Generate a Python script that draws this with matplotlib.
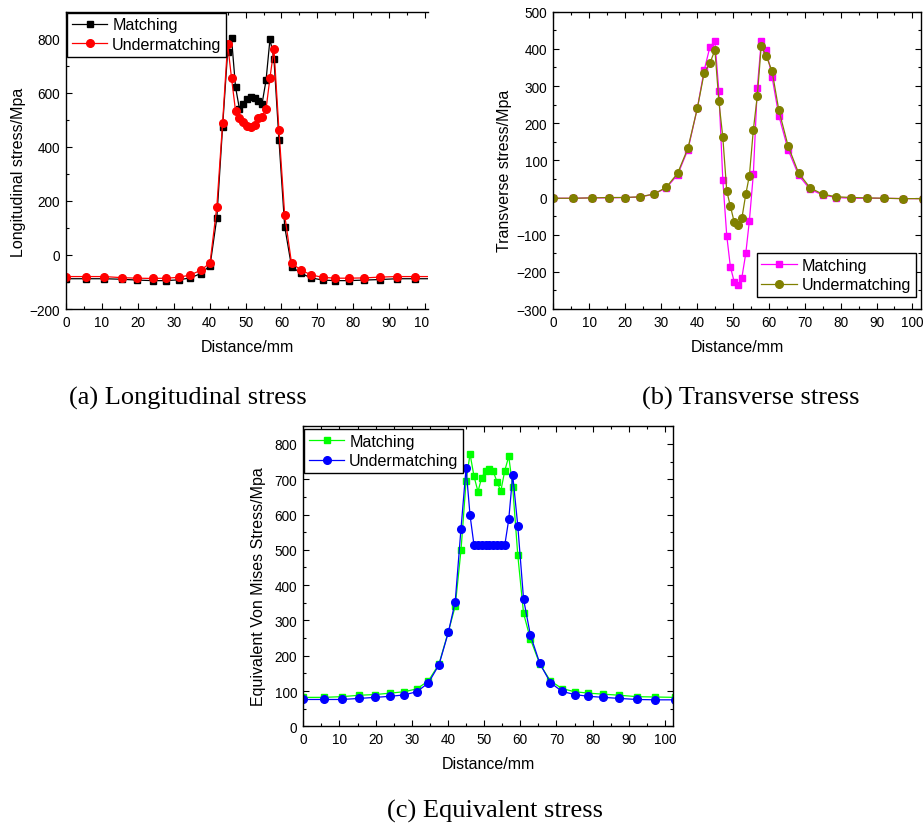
import matplotlib
matplotlib.use('Agg')
import matplotlib.pyplot as plt
from matplotlib.ticker import MultipleLocator
from matplotlib.transforms import Bbox, TransformedBbox

# distance along the path (mm), same sampling for all curves
dist = [0, 5.6, 10.7, 15.5, 19.9, 24.1, 27.9, 31.4, 34.6, 37.5, 40.1, 42.0, 43.6,
        45.0, 46.1, 47.2, 48.3, 49.3, 50.4, 51.45, 52.5, 53.6, 54.6, 55.7, 56.8,
        57.9, 59.3, 60.9, 62.8, 65.4, 68.3, 71.5, 75.0, 78.8, 83.0, 87.4, 92.2,
        97.3, 102.9]

# (a) longitudinal stress
long_match = [-88, -88, -88, -90, -93, -95, -95, -92, -85, -69, -40, 137, 474,
              750, 801, 622, 540, 560, 576, 586, 579, 568, 560, 646, 799,
              726, 426, 105, -43, -68, -85, -93, -95, -95, -93, -91, -88,
              -88, -88]
long_under = [-80, -80, -80, -84, -86, -87, -86, -83, -74, -57, -30, 179, 487,
              781, 653, 534, 506, 493, 476, 475, 479, 505, 512, 539, 656,
              763, 461, 147, -30, -56, -74, -83, -86, -86, -85, -82, -80,
              -80, -80]

# (b) transverse stress
trans_match = [-2, -2, -1, -1, 0, 1, 9, 25, 61, 129, 240, 342, 405,
               421, 286, 47, -103, -186, -228, -235, -216, -150, -62, 63, 295,
               420, 397, 325, 220, 128, 60, 22, 7, 0, -2, -2, -2,
               -3, -3]
trans_under = [-2, -2, -1, 0, 0, 2, 9, 27, 65, 133, 240, 335, 361,
               397, 259, 162, 17, -23, -67, -75, -56, 9, 59, 182, 273,
               408, 380, 341, 235, 138, 66, 26, 9, 2, 0, -1, -2,
               -3, -3]

# (c) equivalent von Mises stress
vm_match = [82, 82, 84, 88, 90, 94, 98, 106, 129, 176, 268, 340, 499,
            694, 772, 708, 665, 704, 724, 730, 722, 692, 666, 724, 765,
            678, 485, 320, 247, 176, 129, 107, 98, 94, 91, 88, 84,
            83, 82]
vm_under = [76, 76, 76, 79, 82, 85, 89, 98, 123, 174, 266, 353, 560,
            731, 598, 513, 513, 513, 513, 513, 513, 513, 513, 513, 586,
            712, 568, 360, 258, 178, 124, 99, 90, 85, 82, 79, 76,
            75, 75]

W, H = 924, 828
plt.rcParams['font.family'] = ['Liberation Sans', 'DejaVu Sans']
fig = plt.figure(figsize=(W / 100, H / 100), dpi=100)


def fig_frac(x, y):
    return x / W, 1 - y / H


def add_panel(left, top, right, bottom):
    l, t = fig_frac(left, top)
    r, b = fig_frac(right, bottom)
    return fig.add_axes([l, b, r - l, t - b])


def style(ax, xmax, ylim, ymaj, ymin, right=True):
    ax.set_xlim(0, xmax)
    ax.set_ylim(*ylim)
    ax.xaxis.set_major_locator(MultipleLocator(10))
    ax.xaxis.set_minor_locator(MultipleLocator(5))
    ax.yaxis.set_major_locator(MultipleLocator(ymaj))
    ax.yaxis.set_minor_locator(MultipleLocator(ymin))
    ax.tick_params(which='both', direction='in', top=True, right=right,
                   labelsize=9.8, width=0.8, colors='black')
    ax.tick_params(which='major', length=4)
    ax.tick_params(which='minor', length=2.2)
    ax.tick_params(axis='x', pad=4)
    ax.tick_params(axis='y', pad=4.5)
    for s in ax.spines.values():
        s.set_linewidth(1.0)
    if not right:
        ax.spines['right'].set_visible(False)


def labels(ax, xlab, xpos, ylab, ypos):
    ax.set_xlabel(xlab, fontsize=11.5, va='center')
    ax.xaxis.set_label_coords(*fig_frac(*xpos), transform=fig.transFigure)
    ax.set_ylabel(ylab, fontsize=11.5, va='center')
    ax.yaxis.set_label_coords(*fig_frac(*ypos), transform=fig.transFigure)


def legend(ax, loc, anchor):
    leg = ax.legend(loc=loc, bbox_to_anchor=anchor, fontsize=11.6,
                    fancybox=False, framealpha=1, edgecolor='black',
                    borderpad=0.3, labelspacing=0.28, handlelength=2.2,
                    handletextpad=0.3, borderaxespad=0)
    leg.get_frame().set_linewidth(1.0)


line_kw = dict(linewidth=0.9)

# (a) Longitudinal
ax1 = add_panel(66, 12.7, 428, 310)
ax1.plot(dist, long_match, color='black', marker='s', markersize=4.5,
         label='Matching', **line_kw)
ax1.plot(dist, long_under, color='red', marker='o', markersize=5.5,
         label='Undermatching', **line_kw)
style(ax1, 100.8, (-200, 900), 200, 100, right=False)
labels(ax1, 'Distance/mm', (247, 348), 'Longitudinal stress/Mpa', (19, 172))
legend(ax1, 'upper left', (0.003, 0.997))

# (b) Transverse
ax2 = add_panel(553.3, 12.7, 920.7, 310)
ax2.plot(dist, trans_match, color='#FF00FF', marker='s', markersize=4.5,
         label='Matching', **line_kw)
ax2.plot(dist, trans_under, color='#808000', marker='o', markersize=5.5,
         label='Undermatching', **line_kw)
style(ax2, 102.3, (-300, 500), 100, 50)
labels(ax2, 'Distance/mm', (737, 348), 'Transverse stress/Mpa', (505, 171))
legend(ax2, 'lower right', (0.987, 0.04))

# (c) Equivalent
ax3 = add_panel(303.3, 427.3, 673.3, 727.3)
ax3.plot(dist, vm_match, color='#00FF00', marker='s', markersize=4.5,
         label='Matching', **line_kw)
ax3.plot(dist, vm_under, color='#0000FF', marker='o', markersize=5.5,
         label='Undermatching', **line_kw)
style(ax3, 102.3, (0, 850), 100, 50)
labels(ax3, 'Distance/mm', (488, 765), 'Equivalent Von Mises Stress/Mpa', (259, 587))
legend(ax3, 'upper left', (0.002, 0.991))

# captions
cap_kw = dict(family=['Liberation Serif', 'DejaVu Serif'], fontsize=19,
              ha='center', va='center')
fig.text(*fig_frac(187.5, 398), '(a) Longitudinal stress', **cap_kw)
fig.text(*fig_frac(750.5, 398), '(b) Transverse stress', **cap_kw)
fig.text(*fig_frac(494.7, 811), '(c) Equivalent stress', **cap_kw)

# panel (a) is cut off on the right in the source figure
fig.canvas.draw()
clip = TransformedBbox(Bbox([[0, 0], [429 / W, 1]]), fig.transFigure)
for lab in ax1.get_xticklabels():
    lab.set_clip_box(clip)
    lab.set_clip_on(True)

fig.savefig('out.png', dpi=100)
